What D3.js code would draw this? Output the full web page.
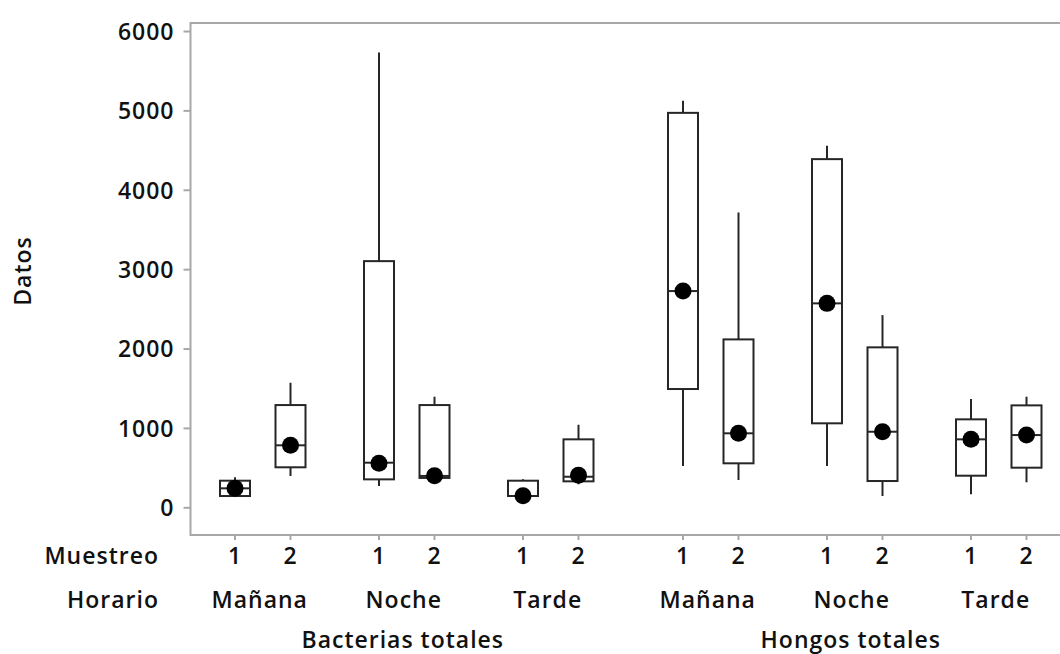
<!DOCTYPE html>
<html>
<head>
<meta charset="utf-8">
<script src="https://cdn.jsdelivr.net/npm/d3@7"></script>
<style>
  html, body { margin: 0; padding: 0; background: #fff; }
  svg { display: block; }
  text { font-family: "Open Sans", "Noto Sans", sans-serif; font-weight: 600; fill: #111; }
</style>
</head>
<body>
<svg id="chart" width="1060" height="654"></svg>
<script>
// Factor levels (Grupo > Horario > Muestreo)
const grupos = ["Bacterias totales", "Hongos totales"];
const horarios = ["Mañana", "Noche", "Tarde"];
const muestreos = ["1", "2"];

// Box statistics, one entry per box, in order:
// Bacterias (Mañana 1, 2, Noche 1, 2, Tarde 1, 2), then Hongos (same order)
const minimos  = [142, 394, 268, 370, 142, 290,   520,  344,  520,  142,  164,  315];
const q1       = [142, 504, 352, 370, 142, 327,  1490,  554, 1058,  331,  398,  499];
const medianas = [239, 781, 562, 395, 142, 385,  2724,  932, 2569,  952,  856,  910];
const q3       = [335, 1288, 3101, 1288, 335, 856, 4969, 2115, 4386, 2015, 1108, 1284];
const maximos  = [378, 1569, 5729, 1393, 352, 1040, 5120, 3714, 4554, 2421, 1364, 1393];
const medias   = [240, 781, 555, 398, 146, 403,  2724,  932, 2569,  952,  856,  910];

const yTicks = [0, 1000, 2000, 3000, 4000, 5000, 6000];
const yTitulo = "Datos";
const filaMuestreo = "Muestreo";
const filaHorario = "Horario";

const svg = d3.select("#chart");
const frame = { left: 190.5, top: 23, right: 1062, bottom: 535 };

const y = d3.scaleLinear().domain([-349, 6101]).range([frame.bottom, frame.top]);

// nested point scales for the grouped categorical axis
const gx = d3.scalePoint().domain(grupos).range([235, 683]);
const hx = d3.scalePoint().domain(horarios).range([0, 288]);
const mx = d3.scalePoint().domain(muestreos).range([0, 55.5]);

const boxes = [];
grupos.forEach(g => horarios.forEach(h => muestreos.forEach(m => {
  const i = boxes.length;
  boxes.push({
    g, h, m,
    x: gx(g) + hx(h) + mx(m),
    min: minimos[i], q1: q1[i], med: medianas[i], q3: q3[i], max: maximos[i], mean: medias[i]
  });
})));

const frameColor = "#a8a8a8";
const markColor = "#262626";
const boxW = 30;

// plot frame (right side runs off the canvas)
svg.append("path")
  .attr("d", `M${frame.right},${frame.top}H${frame.left}V${frame.bottom}H${frame.right}`)
  .attr("fill", "none").attr("stroke", frameColor).attr("stroke-width", 2);

// y axis
const yAxis = svg.append("g")
  .attr("transform", `translate(${frame.left},0)`)
  .call(d3.axisLeft(y).tickValues(yTicks).tickSize(7).tickPadding(9).tickFormat(d3.format("d")));
yAxis.select(".domain").remove();
yAxis.selectAll(".tick line").attr("stroke", frameColor).attr("stroke-width", 2);
yAxis.selectAll(".tick text")
  .style("font-size", "23px").style("font-family", "'Open Sans', sans-serif")
  .style("font-weight", 600).attr("fill", "#111").attr("dy", "0.36em")
  .style("letter-spacing", "1px");

svg.append("text")
  .attr("transform", `translate(31,271) rotate(-90)`)
  .attr("text-anchor", "middle")
  .style("font-size", "23px").style("letter-spacing", "1px")
  .text(yTitulo);

// bottom tick marks
svg.append("g").selectAll("line").data(boxes).join("line")
  .attr("x1", d => d.x).attr("x2", d => d.x)
  .attr("y1", frame.bottom).attr("y2", frame.bottom + 5)
  .attr("stroke", frameColor).attr("stroke-width", 2);

// whiskers
const marks = svg.append("g");
marks.selectAll("line.upper").data(boxes).join("line").attr("class", "upper")
  .attr("x1", d => d.x).attr("x2", d => d.x)
  .attr("y1", d => y(d.q3)).attr("y2", d => y(d.max))
  .attr("stroke", markColor).attr("stroke-width", 2);
marks.selectAll("line.lower").data(boxes).join("line").attr("class", "lower")
  .attr("x1", d => d.x).attr("x2", d => d.x)
  .attr("y1", d => y(d.q1)).attr("y2", d => y(d.min))
  .attr("stroke", markColor).attr("stroke-width", 2);

// boxes
marks.selectAll("rect").data(boxes).join("rect")
  .attr("x", d => d.x - boxW / 2).attr("width", boxW)
  .attr("y", d => y(d.q3)).attr("height", d => y(d.q1) - y(d.q3))
  .attr("fill", "#fff").attr("stroke", markColor).attr("stroke-width", 2);

// medians
marks.selectAll("line.med").data(boxes).join("line").attr("class", "med")
  .attr("x1", d => d.x - boxW / 2).attr("x2", d => d.x + boxW / 2)
  .attr("y1", d => y(d.med)).attr("y2", d => y(d.med))
  .attr("stroke", markColor).attr("stroke-width", 2);

// mean symbols
marks.selectAll("circle").data(boxes).join("circle")
  .attr("cx", d => d.x).attr("cy", d => y(d.mean)).attr("r", 8.5)
  .attr("fill", "#000");

// categorical axis labels
const lab = svg.append("g").style("font-size", "23px").style("letter-spacing", "1px");
lab.append("text").attr("x", 159).attr("y", 564).attr("text-anchor", "end").text(filaMuestreo);
lab.append("text").attr("x", 159).attr("y", 608).attr("text-anchor", "end").text(filaHorario);

lab.selectAll("text.m").data(boxes).join("text").attr("class", "m")
  .attr("x", d => d.x).attr("y", 564).attr("text-anchor", "middle").text(d => d.m);

const hLabels = [];
grupos.forEach(g => horarios.forEach(h => hLabels.push({ g, h, x: gx(g) + hx(h) + 55.5 / 2 })));
lab.selectAll("text.h").data(hLabels).join("text").attr("class", "h")
  .attr("x", d => d.x - 3).attr("y", 608).attr("text-anchor", "middle").text(d => d.h);

lab.selectAll("text.g").data(grupos).join("text").attr("class", "g")
  .attr("x", d => gx(d) + (288 + 55.5) / 2 - 4).attr("y", 648).attr("text-anchor", "middle").text(d => d);
</script>
</body>
</html>
